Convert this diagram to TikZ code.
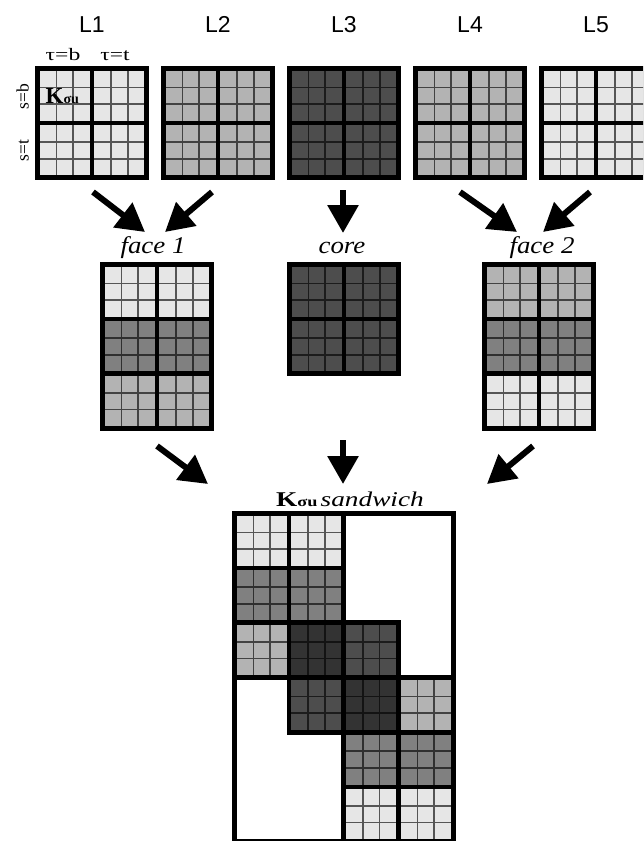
\documentclass[tikz,border=0pt]{standalone}
\usepackage{fontspec}
\setmainfont{Liberation Serif}
\newfontfamily\lsans{Liberation Sans}
\usetikzlibrary{arrows.meta}
\definecolor{cA}{gray}{0.902}
\definecolor{cB}{gray}{0.702}
\definecolor{cC}{gray}{0.502}
\definecolor{cD}{gray}{0.302}
\definecolor{cE}{gray}{0.2}
\newcommand\subblk[3]{%
  \fill[black] (#1,#2) rectangle ++(59.4,59.4);
  \fill[#3] (#1+4.7,#2+4.7) rectangle ++(50,50);
  \draw[color=#3!37!black,line width=1.7pt]
    (#1+4.7+16.67,#2+4.7) -- ++(0,50)
    (#1+4.7+33.33,#2+4.7) -- ++(0,50)
    (#1+4.7,#2+4.7+16.67) -- ++(50,0)
    (#1+4.7,#2+4.7+33.33) -- ++(50,0);
}
\tikzset{
  bigarrow/.style={line width=6pt,-{Triangle[length=28pt,width=30pt]}},
  toplab/.style={font=\lsans\fontsize{23}{23}\selectfont,anchor=base,inner sep=0pt},
  smlab/.style={font=\fontsize{17.5}{17.5}\selectfont,anchor=base,inner sep=0pt},
  itlab/.style={font=\itshape\fontsize{24}{24}\selectfont,anchor=base,inner sep=0pt,xscale=1.12},
}
\begin{document}
\begin{tikzpicture}[x=1pt,y=-1pt]
\useasboundingbox (0,0) rectangle (643,841);
\clip (0,0) rectangle (643,841);
\fill[white] (0,0) rectangle (643,841);
% top row
\foreach \x/\c in {35/cA,161/cB,287/cD,413/cB,539/cA}{
  \foreach \i in {0,1}{\foreach \j in {0,1}{\subblk{\x+\i*54.7}{66+\j*54.7}{\c}}}}
% face 1
\foreach \j/\c in {0/cA,1/cC,2/cB}{
  \foreach \i in {0,1}{\subblk{100+\i*54.7}{262+\j*54.7}{\c}}}
% core
\foreach \i in {0,1}{\foreach \j in {0,1}{\subblk{287+\i*54.7}{262+\j*54.7}{cD}}}
% face 2
\foreach \j/\c in {0/cB,1/cC,2/cA}{
  \foreach \i in {0,1}{\subblk{482+\i*54.7}{262+\j*54.7}{\c}}}
% sandwich
\fill[black] (232,511) rectangle ++(223.5,332.9);
\fill[white] (236.7,515.7) rectangle ++(214.1,323.5);
\foreach \i/\j/\c in {0/0/cA,1/0/cA,0/1/cC,1/1/cC,0/2/cB,1/2/cE,2/2/cD,1/3/cD,2/3/cE,3/3/cB,2/4/cC,3/4/cC,2/5/cA,3/5/cA}{
  \subblk{232+\i*54.7}{511+\j*54.7}{\c}}
% labels
\node[toplab] (tL1) at (92,32) {L1};
\node[toplab] (tL2) at (218,32) {L2};
\node[toplab] (tL3) at (344,32) {L3};
\node[toplab] (tL4) at (470,32) {L4};
\node[toplab] (tL5) at (596,32) {L5};
\node[smlab,xscale=1.35] (tb) at (63,60) {τ=b};
\node[smlab,xscale=1.35] (tt) at (115,60) {τ=t};
\node[smlab,rotate=90] (sb) at (28.5,96.7) {s=b};
\node[smlab,rotate=90] (st) at (28.5,150.8) {s=t};
\node[anchor=base west,inner sep=0pt,font=\bfseries\fontsize{23}{23}\selectfont] (kl) at (45.5,103) {K{\fontsize{14}{14}\selectfont σu}};
\node[itlab] (f1) at (153,253) {face 1};
\node[itlab] (co) at (342,253) {core};
\node[itlab] (f2) at (542,253) {face 2};
\node[anchor=base,inner sep=0pt,xscale=1.3] (sw) at (350,506.5) {{\bfseries\fontsize{21}{21}\selectfont K{\fontsize{14}{14}\selectfont σu}} {\itshape\fontsize{21}{21}\selectfont sandwich}};
% arrows
\coordinate (a1s) at (93,192);  \coordinate (a1e) at (145,232);
\coordinate (a2s) at (212,192); \coordinate (a2e) at (165,232);
\coordinate (a3s) at (343,190); \coordinate (a3e) at (343,233);
\coordinate (a4s) at (460,192); \coordinate (a4e) at (517,232);
\coordinate (a5s) at (590,192); \coordinate (a5e) at (543,232);
\coordinate (a6s) at (157,446); \coordinate (a6e) at (208,484);
\coordinate (a7s) at (343,440); \coordinate (a7e) at (343,484);
\coordinate (a8s) at (533,446); \coordinate (a8e) at (487,484);
\foreach \k in {1,...,8}{\draw[bigarrow] (a\k s) -- (a\k e);}
\end{tikzpicture}
\end{document}
